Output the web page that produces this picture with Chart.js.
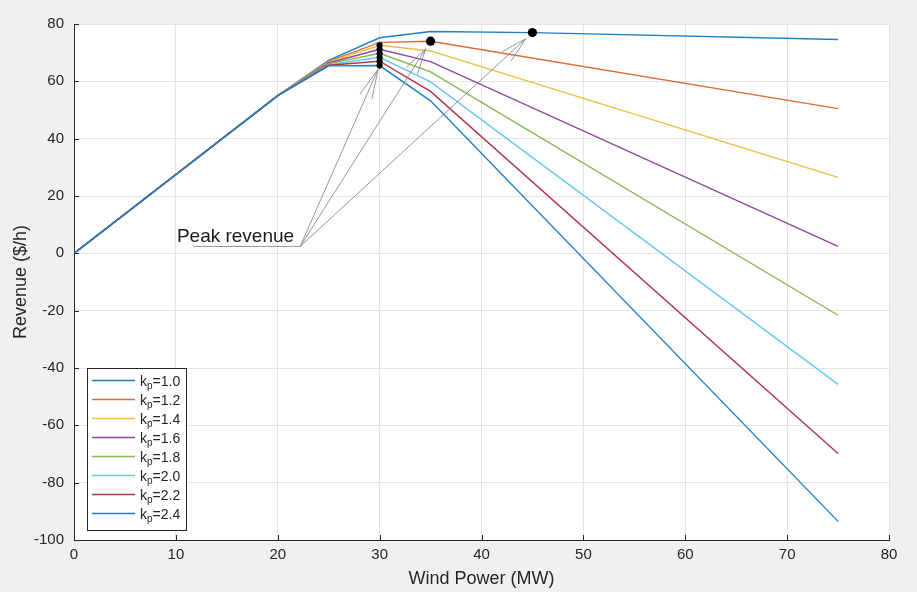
<!DOCTYPE html>
<html>
<head>
<meta charset="utf-8">
<script src="https://cdn.jsdelivr.net/npm/chart.js@4.4.1/dist/chart.umd.min.js"></script>
<style>
  html, body { margin: 0; padding: 0; background: #f0f0f0; }
  #wrap { width: 917px; height: 592px; }
</style>
</head>
<body>
<div id="wrap"><canvas id="c" width="917" height="592"></canvas></div>
<script>
// Wind power levels (MW) at which revenue was evaluated
const windPower = [0, 20, 25, 30, 35, 45, 75];

// Penalty factor labels
const kpLabels = ['1.0', '1.2', '1.4', '1.6', '1.8', '2.0', '2.2', '2.4'];

// Revenue ($/h) for each penalty factor k_p (null = not sampled)
const revKp10 = [0, 55, 67.3, 75.2, 77.4, 77.0, 74.6];
const revKp12 = [0, 55, 67.0, 73.6, 74.0, null, 50.5];
const revKp14 = [0, 55, 66.7, 72.6, 70.6, null, 26.5];
const revKp16 = [0, 55, 66.4, 71.2, 66.9, null, 2.4];
const revKp18 = [0, 55, 66.1, 69.8, 63.3, null, -21.6];
const revKp20 = [0, 55, 65.8, 68.4, 59.8, null, -45.7];
const revKp22 = [0, 55, 65.6, 67.0, 56.5, null, -69.8];
const revKp24 = [0, 55, 65.4, 65.5, 53.2, null, -93.5];

// Wind power at which each curve reaches its peak revenue
const peakWind = [45, 35, 30, 30, 30, 30, 30, 30];

// Axis ticks
const xTicks = [0, 10, 20, 30, 40, 50, 60, 70, 80];
const yTicks = [-100, -80, -60, -40, -20, 0, 20, 40, 60, 80];

const revenueSeries = [revKp10, revKp12, revKp14, revKp16, revKp18, revKp20, revKp22, revKp24];
const lineColors = ['#1f7fc4', '#de6a37', '#efbc3f', '#8c4a9a', '#85b74c', '#66c7ef', '#ad3550', '#1f7fc4'];

const toPoints = s => windPower.map((x, i) => ({ x: x, y: s[i] })).filter(p => p.y !== null);
const valueAt = (s, x) => s[windPower.indexOf(x)];

const peakPoints = revenueSeries.map((s, i) => ({ x: peakWind[i], y: valueAt(s, peakWind[i]) }));
const peakRadius = peakWind.map((x, i) => (i < 2 ? 4.6 : 3.1));

const datasets = revenueSeries.map((s, i) => ({
  type: 'line',
  label: 'k_p=' + kpLabels[i],
  data: toPoints(s),
  borderColor: lineColors[i],
  backgroundColor: lineColors[i],
  borderWidth: 1.4,
  pointRadius: 0,
  tension: 0,
  order: 8 - i
}));
datasets.push({
  type: 'scatter',
  label: 'peak',
  data: peakPoints,
  showLine: false,
  pointRadius: peakRadius,
  pointBackgroundColor: '#000',
  pointBorderColor: '#000',
  pointBorderWidth: 0,
  order: 0
});

const AXIS_COLOR = '#262626';
const FONT = '"Liberation Sans", Arial, Helvetica, sans-serif';

// Figure background and white axes area
const backgroundPlugin = {
  id: 'bg',
  beforeDraw(chart) {
    const { ctx, chartArea: a } = chart;
    ctx.save();
    ctx.fillStyle = '#f0f0f0';
    ctx.fillRect(0, 0, chart.width, chart.height);
    ctx.fillStyle = '#ffffff';
    ctx.fillRect(a.left, a.top, a.right - a.left, a.bottom - a.top);
    ctx.restore();
  }
};

// Inward tick marks on the left and bottom axes
const innerTicksPlugin = {
  id: 'innerTicks',
  afterDraw(chart) {
    const { ctx, chartArea: a, scales } = chart;
    ctx.save();
    ctx.strokeStyle = AXIS_COLOR;
    ctx.lineWidth = 1;
    ctx.beginPath();
    xTicks.forEach(v => {
      const px = Math.round(scales.x.getPixelForValue(v)) + 0.5;
      ctx.moveTo(px, a.bottom);
      ctx.lineTo(px, a.bottom - 5);
    });
    yTicks.forEach(v => {
      const py = Math.round(scales.y.getPixelForValue(v)) + 0.5;
      ctx.moveTo(a.left, py);
      ctx.lineTo(a.left + 5, py);
    });
    ctx.stroke();
    ctx.restore();
  }
};

// "Peak revenue" callout with arrows to the peak markers
const calloutPlugin = {
  id: 'callout',
  afterDatasetsDraw(chart) {
    const { ctx, scales } = chart;
    const X = v => scales.x.getPixelForValue(v);
    const Y = v => scales.y.getPixelForValue(v);
    const ox = X(22.2), oy = Y(2.4);

    ctx.save();
    ctx.fillStyle = '#1a1a1a';
    ctx.font = '19px ' + FONT;
    ctx.textAlign = 'left';
    ctx.textBaseline = 'alphabetic';
    ctx.fillText('Peak revenue', X(10.1), oy - 4);

    ctx.strokeStyle = '#8a8a8a';
    ctx.lineWidth = 0.9;
    ctx.beginPath();
    ctx.moveTo(X(11.7), oy);
    ctx.lineTo(ox, oy);
    ctx.stroke();

    const targets = [
      { p: peakPoints[7], gap: 4, hl: 30 },
      { p: peakPoints[1], gap: 9, hl: 26 },
      { p: peakPoints[0], gap: 9, hl: 26 }
    ];
    targets.forEach(t => {
      const tx0 = X(t.p.x), ty0 = Y(t.p.y);
      const dx = tx0 - ox, dy = ty0 - oy;
      const len = Math.hypot(dx, dy);
      const ux = dx / len, uy = dy / len;
      const tx = tx0 - ux * t.gap, ty = ty0 - uy * t.gap;
      ctx.beginPath();
      ctx.moveTo(ox, oy);
      ctx.lineTo(tx, ty);
      const hw = 6.5;
      const bx = tx - ux * t.hl, by = ty - uy * t.hl;
      ctx.moveTo(bx - uy * hw, by + ux * hw);
      ctx.lineTo(tx, ty);
      ctx.lineTo(bx + uy * hw, by - ux * hw);
      ctx.stroke();
    });
    ctx.restore();
  }
};

// Legend box with subscripted k_p entries
const legendPlugin = {
  id: 'kpLegend',
  afterDraw(chart) {
    const { ctx } = chart;
    const bx = 87.5, by = 368.5, bw = 99, bh = 162;
    ctx.save();
    ctx.fillStyle = '#ffffff';
    ctx.fillRect(bx, by, bw, bh);
    ctx.strokeStyle = AXIS_COLOR;
    ctx.lineWidth = 1;
    ctx.strokeRect(bx, by, bw, bh);
    kpLabels.forEach((lab, i) => {
      const ry = 380.5 + i * 19;
      ctx.strokeStyle = lineColors[i];
      ctx.lineWidth = 1.4;
      ctx.beginPath();
      ctx.moveTo(92, ry);
      ctx.lineTo(135, ry);
      ctx.stroke();
      ctx.fillStyle = AXIS_COLOR;
      ctx.textBaseline = 'alphabetic';
      ctx.textAlign = 'left';
      ctx.font = '14px ' + FONT;
      let x = 140;
      ctx.fillText('k', x, ry + 5);
      x += ctx.measureText('k').width;
      ctx.font = '10px ' + FONT;
      ctx.fillText('p', x, ry + 8);
      x += ctx.measureText('p').width;
      ctx.font = '14px ' + FONT;
      ctx.fillText('=' + lab, x, ry + 5);
    });
    ctx.restore();
  }
};

new Chart(document.getElementById('c'), {
  type: 'line',
  data: { datasets: datasets },
  options: {
    responsive: false,
    animation: false,
    events: [],
    layout: { padding: { top: 24, right: 28, left: 0, bottom: 0 } },
    plugins: { legend: { display: false }, tooltip: { enabled: false } },
    scales: {
      x: {
        type: 'linear',
        min: 0, max: 80,
        afterBuildTicks: s => { s.ticks = xTicks.map(v => ({ value: v })); },
        afterFit: s => { s.height = 52; },
        grid: { color: '#e4e4e4', lineWidth: 1, drawTicks: false },
        border: { color: AXIS_COLOR, width: 1 },
        ticks: { color: AXIS_COLOR, font: { family: FONT, size: 15 }, padding: 6, maxRotation: 0 },
        title: { display: true, text: 'Wind Power (MW)', color: AXIS_COLOR,
                 font: { family: FONT, size: 18 }, padding: { top: 0, bottom: 2 } }
      },
      y: {
        type: 'linear',
        min: -100, max: 80,
        afterBuildTicks: s => { s.ticks = yTicks.map(v => ({ value: v })); },
        afterFit: s => { s.width = 74; },
        grid: { color: '#e4e4e4', lineWidth: 1, drawTicks: false },
        border: { color: AXIS_COLOR, width: 1 },
        ticks: { color: AXIS_COLOR, font: { family: FONT, size: 15 }, padding: 10 },
        title: { display: true, text: 'Revenue ($/h)', color: AXIS_COLOR,
                 font: { family: FONT, size: 18 }, padding: { top: 10, bottom: 0 } }
      }
    }
  },
  plugins: [backgroundPlugin, innerTicksPlugin, calloutPlugin, legendPlugin]
});
</script>
</body>
</html>
